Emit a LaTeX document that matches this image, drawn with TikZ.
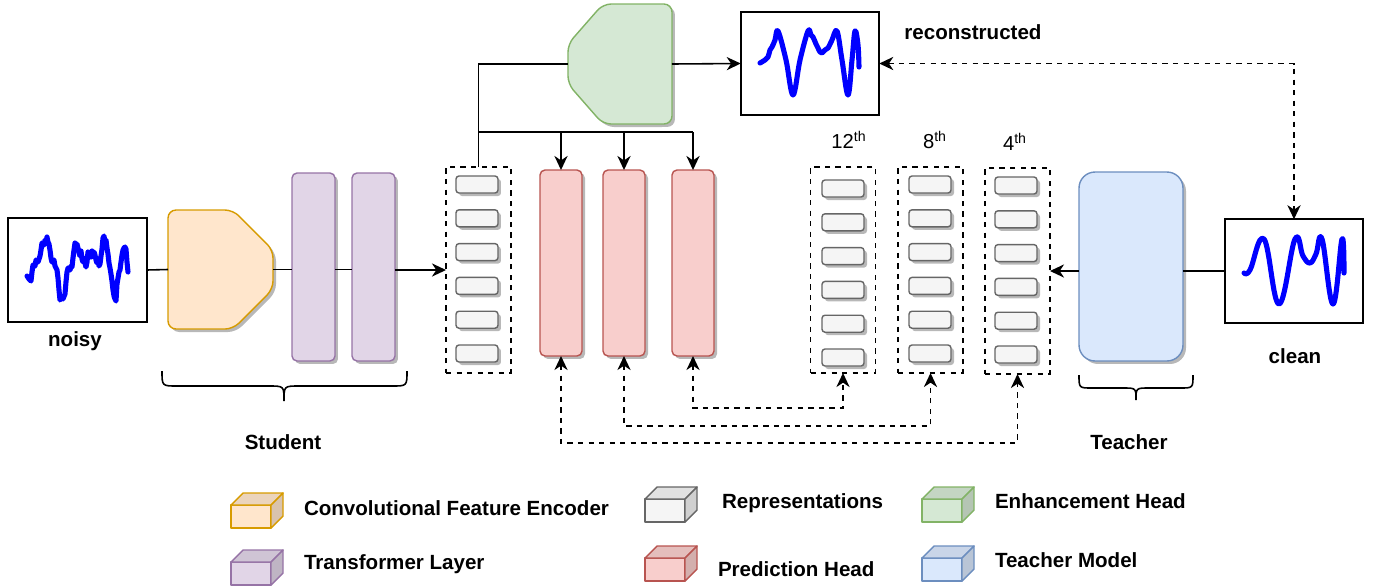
\documentclass[tikz,border=0pt]{standalone}
\usepackage{fontspec}
\setmainfont{Liberation Sans}
\usetikzlibrary{arrows.meta,shadows}

\definecolor{encfill}{HTML}{FFE6CC}\definecolor{encline}{HTML}{D79B00}
\definecolor{trffill}{HTML}{E1D5E7}\definecolor{trfline}{HTML}{9673A6}
\definecolor{repfill}{HTML}{F5F5F5}\definecolor{repline}{HTML}{666666}
\definecolor{prdfill}{HTML}{F8CECC}\definecolor{prdline}{HTML}{B85450}
\definecolor{enhfill}{HTML}{D5E8D4}\definecolor{enhline}{HTML}{82B366}
\definecolor{tchfill}{HTML}{DAE8FC}\definecolor{tchline}{HTML}{6C8EBF}
\definecolor{wavblue}{HTML}{0000FF}

\newcommand{\legcube}[4]{%
  \filldraw[fill=#3, draw=#4, line width=0.8pt, line join=round] (#1,#2) rectangle ++(40,23);
  \filldraw[fill=#3!92!black, draw=#4, line width=0.8pt, line join=round] (#1,#2) -- ++(12,-12) -- ++(40,0) -- ++(-12,12) -- cycle;
  \filldraw[fill=#3!85!black, draw=#4, line width=0.8pt, line join=round] (#1+40,#2) -- ++(12,-12) -- ++(0,23) -- ++(-12,12) -- cycle;
}

\begin{document}
\begin{tikzpicture}[x=0.02cm, y=-0.02cm, >={Stealth[length=8pt,width=7.5pt,inset=2.5pt]},
    every node/.style={inner sep=0pt, outer sep=0pt},
    lbl/.style={font=\bfseries\fontsize{11.7}{14}\selectfont},
    ordinal/.style={font=\fontsize{11.5}{14}\selectfont},
    shd/.style={drop shadow={shadow xshift=0.06cm, shadow yshift=-0.06cm, fill=black!28, opacity=1}},
    sig/.style={draw, line width=0.9pt, minimum width=2.77cm, minimum height=2.07cm},
    trf/.style={shd, draw=trfline, fill=trffill, line width=0.8pt, rounded corners=0.1cm, minimum width=0.86cm, minimum height=3.76cm},
    prd/.style={shd, draw=prdline, fill=prdfill, line width=0.8pt, rounded corners=0.1cm, minimum width=0.84cm, minimum height=3.72cm},
    rep/.style={shd, draw=repline, fill=repfill, line width=0.8pt, rounded corners=0.06cm, minimum width=0.84cm, minimum height=0.34cm},
    grp/.style={draw, dashed, line width=0.8pt, minimum width=1.3cm, minimum height=4.12cm},
    wav/.style={wavblue, line width=2.9pt, line join=round, line cap=round},
    link/.style={line width=0.9pt}]
\useasboundingbox (0,0) rectangle (1380,586);

\node[sig] (noisy) at (77.5,270) {};
\node[sig] (rec) at (810,63.5) {};
\node[sig] (clean) at (1294,271) {};

\node[minimum width=2.1cm, minimum height=2.38cm] (enc) at (220.5,269.5) {};
\path[shd, fill=encfill, draw=encline, line width=0.8pt, rounded corners=0.16cm] (enc.north west) -- ++(65,0) -- ++(40,40) -- ++(0,39) -- ++(-40,40) -- (enc.south west) -- cycle;
\node[minimum width=2.08cm, minimum height=2.4cm] (enh) at (620,64) {};
\path[shd, fill=enhfill, draw=enhline, line width=0.8pt, rounded corners=0.16cm] (enh.north east) -- ++(-69,0) -- ++(-35,40) -- ++(0,40) -- ++(35,40) -- (enh.south east) -- cycle;

\node[trf] (t1) at (313.5,267) {};
\node[trf] (t2) at (373.5,267) {};
\node[prd] (p1) at (561,263) {};
\node[prd] (p2) at (624,263) {};
\node[prd] (p3) at (693,263) {};
\node[shd, draw=tchline, fill=tchfill, line width=0.8pt, rounded corners=0.32cm, minimum width=2.08cm, minimum height=3.78cm] (tch) at (1131,266.5) {};

\node[grp] (rs) at (478.5,270) {};
\node[grp] (r12) at (843,270) {};
\node[grp] (r8) at (930.5,270) {};
\node[grp] (r4) at (1017.5,271) {};
\foreach \c/\x/\y in {rs/477/176, r12/843/180, r8/930/176, r4/1016/177}
  \foreach \i in {0,...,5}
    \node[rep] (\c\i) at (\x,\y+8.5+\i*33.8) {};

\node[lbl] (noisylbl) at (75,341) {noisy};
\node[lbl] (cleanlbl) at (1295,356) {clean};
\node[lbl] (reclbl) at (973,32) {reconstructed};
\node[lbl] (stulbl) at (283,442) {Student};
\node[lbl] (tchlbl) at (1129,442) {Teacher};
\node[ordinal] (l12) at (849,140) {12\textsuperscript{th}};
\node[ordinal] (l8) at (935,140) {8\textsuperscript{th}};
\node[ordinal] (l4) at (1015,142) {4\textsuperscript{th}};

\draw[link] (noisy.east) -- (enc.west);
\draw[link] (enc.east) -- (enc.east -| t1.west);
\draw[link] (t1.east |- enc.east) -- (t2.west |- enc.east);
\draw[link, ->] (t2.east |- rs.west) -- (rs.west);
\draw[link] (rs.north) |- (enh.west);
\coordinate (bus) at (478.5,132);
\draw[link] (bus) -- (bus -| p3.north);
\draw[link, ->] (bus -| p1.north) -- (p1.north);
\draw[link, ->] (bus -| p2.north) -- (p2.north);
\draw[link, ->] (bus -| p3.north) -- (p3.north);
\draw[link, ->] (enh.east) -- (rec.west);
\draw[link, <->, dashed] (rec.east) -| (clean.north);
\draw[link] (clean.west) -- (clean.west -| tch.east);
\draw[link, ->] (tch.west |- clean.west) -- (r4.east |- clean.west);
\draw[link, <->, dashed] (p3.south) -- ++(0,52) -| (r12.south);
\draw[link, <->, dashed] (p2.south) -- ++(0,70) -| (r8.south);
\draw[link, <->, dashed] (p1.south) -- ++(0,87) -| (r4.south);

\draw[link] (162,371) .. controls (162,386) .. (177,386) -- (269,386) .. controls (284,386) .. (284,401) .. controls (284,386) .. (299,386) -- (392,386) .. controls (407,386) .. (407,371);
\draw[link] (1079,375) .. controls (1079,388) .. (1092,388) -- (1123,388) .. controls (1136,388) .. (1136,400) .. controls (1136,388) .. (1149,388) -- (1180,388) .. controls (1193,388) .. (1193,375);

\draw[wav] plot coordinates {(27,276) (29,279) (31,281) (32,272) (33,265) (35,266) (36,260) (38,262) (40,256) (41,250) (42,243) (44,245) (45,240) (46,242) (47,237) (48,242) (49,244) (50,250) (51,258) (52,262) (54,260) (55,266) (57,270) (58,278) (59,290) (60,300) (62,297) (63,299) (65,294) (66,282) (67,272) (68,268) (70,270) (71,266) (72,267) (73,258) (74,250) (75,243) (76,247) (77,244) (78,248) (79,252) (80,256) (81,251) (82,259) (83,262) (84,258) (85,263) (86,267) (87,262) (88,252) (89,256) (90,253) (91,257) (92,251) (93,255) (94,252) (95,255) (96,260) (97,263) (98,259) (99,266) (100,264) (101,256) (102,249) (103,238) (104,236) (105,243) (106,240) (107,248) (108,254) (109,263) (110,268) (111,274) (112,281) (113,290) (114,296) (115,299) (116,301) (117,284) (118,278) (119,272) (120,270) (121,262) (122,255) (123,250) (124,248) (125,247) (126,249) (127,262) (128,272)};
\draw[wav] plot[smooth, tension=0.6] coordinates {(760,63) (765,60) (768,57) (770,50) (772,47) (775,40) (778,31) (786,60) (793,95) (800,60) (808,31) (811,35) (813,37) (816,44) (818,48) (820,52) (822,53) (825,50) (828,48) (832,40) (837,31) (842,60) (848,95) (852,60) (855,31) (858,45) (859,67)};
\draw[wav] plot[smooth, tension=0.7] coordinates {(1244,273) (1250,270) (1264,239) (1279,304) (1295,239) (1303,256) (1310,263) (1316,254) (1322,239) (1333,304) (1342,239) (1344,273)};

\legcube{231}{505}{encfill}{encline}
\node[lbl, anchor=west] (lg1) at (304,508) {Convolutional Feature Encoder};
\legcube{231}{562}{trffill}{trfline}
\node[lbl, anchor=west] (lg2) at (304,564) {Transformer Layer};
\legcube{645}{499}{repfill}{repline}
\node[lbl, anchor=west] (lg3) at (722,503) {Representations};
\legcube{645}{558}{prdfill}{prdline}
\node[lbl, anchor=west] (lg4) at (718,569) {Prediction Head};
\legcube{922}{499}{enhfill}{enhline}
\node[lbl, anchor=west] (lg5) at (995,501) {Enhancement Head};
\legcube{922}{558}{tchfill}{tchline}
\node[lbl, anchor=west] (lg6) at (995,560) {Teacher Model};
\end{tikzpicture}
\end{document}
